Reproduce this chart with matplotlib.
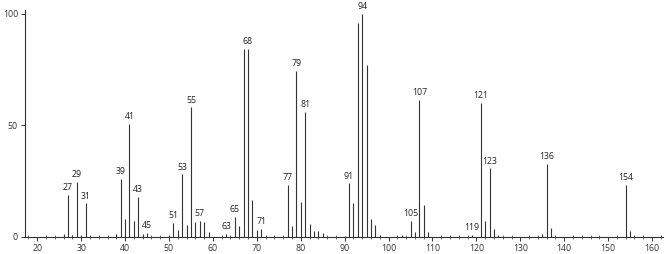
import matplotlib
matplotlib.use('Agg')
import matplotlib.pyplot as plt
from matplotlib.ticker import MultipleLocator

# m/z and relative intensity
mz = [26, 27, 28, 29, 30, 31, 38, 39, 40, 41, 42, 43, 44, 45,
      50, 51, 52, 53, 54, 55, 56, 57, 58, 59, 63, 65, 66, 67, 68, 69, 70, 71,
      77, 78, 79, 80, 81, 82, 83, 84, 85, 90, 91, 92, 93, 94, 95, 96, 97, 98,
      103, 105, 106, 107, 108, 109, 119, 121, 122, 123, 124, 125,
      135, 136, 137, 154, 155]
intensity = [1.3, 19, 0.8, 24.5, 1.0, 15, 1.2, 26, 8, 50.5, 7, 18, 1.4, 2,
             1.0, 6.2, 3.1, 28, 5.4, 58, 6.5, 7.1, 6.5, 2.2, 1.3, 9, 4.8, 84, 84.3, 16.7, 3.1, 3.6,
             23.2, 5, 74.3, 15.5, 56, 6, 2.8, 2.8, 1.8, 0.6, 24, 15, 95.7, 100, 77, 8, 5.4, 1,
             1, 7.3, 2.1, 61.5, 14.3, 2.2, 1, 60, 7.1, 30.7, 3.6, 0.8,
             1.3, 32.8, 3.9, 23.3, 2.7]
labelled = [27, 29, 31, 39, 41, 43, 45, 51, 53, 55, 57, 63, 65, 68, 71,
            77, 79, 81, 91, 94, 105, 107, 119, 121, 123, 136, 154]

plt.rcParams['font.family'] = ['Open Sans', 'DejaVu Sans']
fig = plt.figure(figsize=(6.66, 2.54), dpi=100)
ax = fig.add_axes([0.0375, 0.067, 0.958, 0.895])

ax.vlines(mz, 0, intensity, color='#333333', linewidth=0.8)

for m, v in zip(mz, intensity):
    if m in labelled:
        ax.annotate(str(m), (m, v), xytext=(0, 2), textcoords='offset points',
                    ha='center', va='bottom', fontsize=6.3, color='#222222')

ax.set_xlim(17.2, 162.5)
ax.set_ylim(0, 101.8)
ax.set_xticks(range(20, 161, 10))
ax.set_yticks([0, 50, 100])
ax.xaxis.set_minor_locator(MultipleLocator(2))
ax.tick_params(axis='both', which='major', labelsize=6.3, length=3, width=0.7,
               colors='#333333', pad=2)
ax.tick_params(axis='x', which='minor', direction='inout', length=3, width=0.6,
               colors='#555555')
for s in ['top', 'right']:
    ax.spines[s].set_visible(False)
for s in ['left', 'bottom']:
    ax.spines[s].set_linewidth(0.8)
    ax.spines[s].set_color('#333333')

fig.savefig('out.png', dpi=100)
